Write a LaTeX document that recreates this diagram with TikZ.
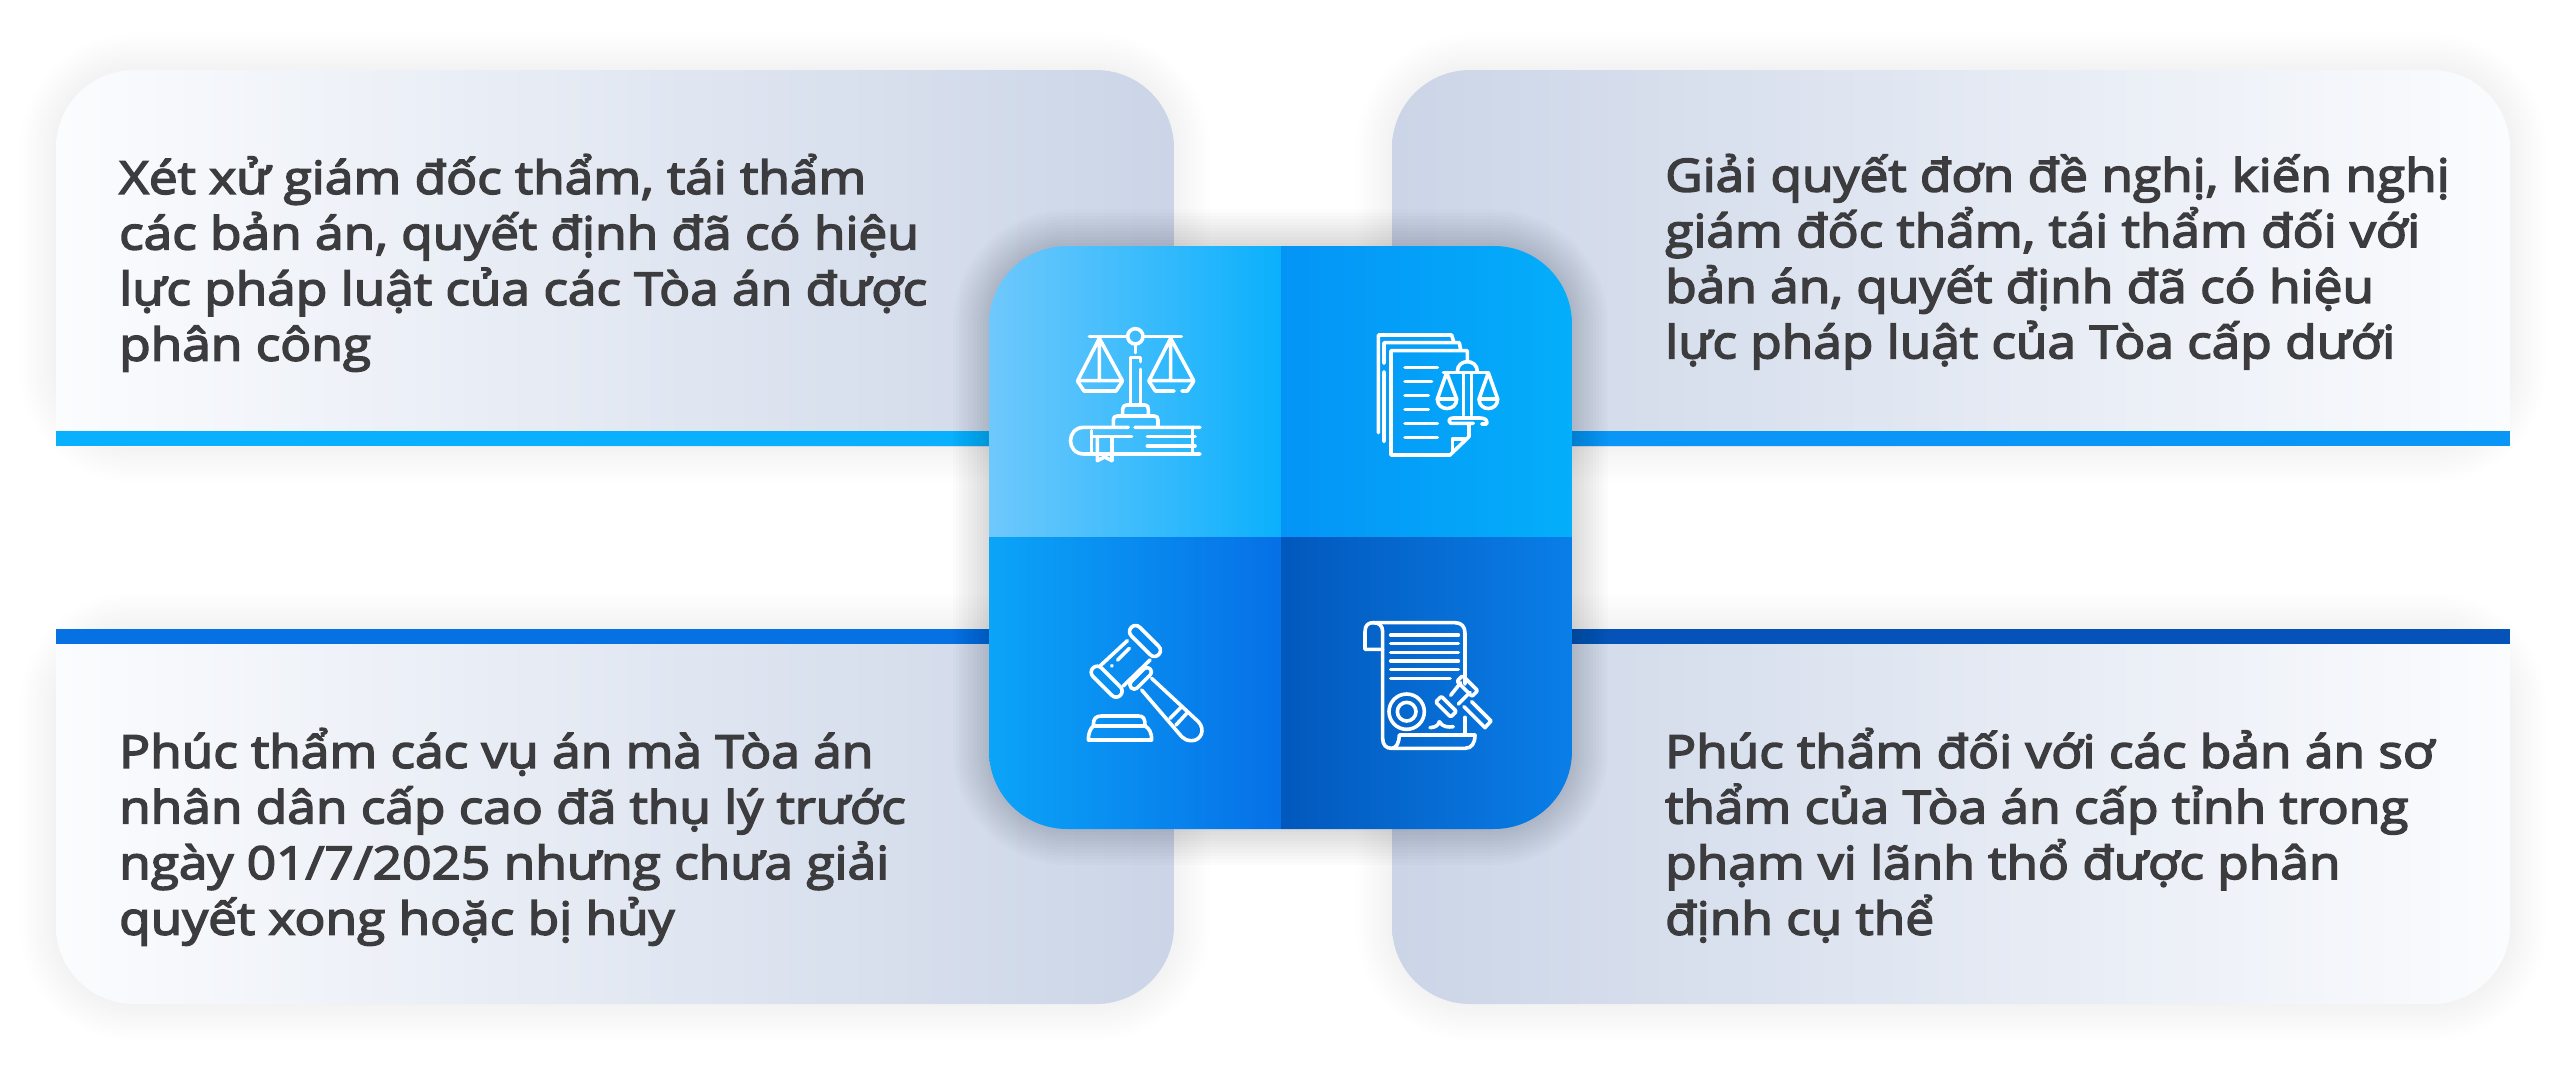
\documentclass[tikz,border=0pt]{standalone}
\usepackage{fontspec}
\setmainfont{Open Sans}[FakeBold=3.5,FakeStretch=1.13]
\definecolor{cardlight}{HTML}{FBFCFE}
\definecolor{carddark}{HTML}{CBD5E7}
\definecolor{txt}{HTML}{3C3C3E}
\definecolor{barA}{HTML}{09B0FD}
\definecolor{barB}{HTML}{0A96F6}
\definecolor{barC}{HTML}{0671E3}
\definecolor{barD}{HTML}{0553B8}
\definecolor{HTMLa}{HTML}{6FC8FC}
\definecolor{HTMLb}{HTML}{0BB0FC}
\definecolor{HTMLc}{HTML}{0494F6}
\definecolor{HTMLd}{HTML}{04AEFA}
\definecolor{HTMLe}{HTML}{0BA4F8}
\definecolor{HTMLf}{HTML}{0670E6}
\definecolor{HTMLg}{HTML}{0258BC}
\definecolor{HTMLh}{HTML}{0A7EE8}
\tikzset{
  cardtext/.style={anchor=north west,inner sep=0pt,align=left,text=txt,font=\fontsize{45.5}{55.6}\selectfont},
  ic/.style={draw=white,line width=3.6pt,line cap=round,line join=round},
  iconzoom/.style={x=0.33333pt,y=-0.33333pt},
}
\newcommand{\softshadow}[5]{% x1 y1 x2 y2 opacity
  \foreach \i in {1,...,12}{
    \fill[black,opacity=#5,rounded corners={78pt+\i*3pt}]
      ({#1-\i*3},{#2-\i*3}) rectangle ({#3+\i*3},{#4+\i*3});
  }
}
\begin{document}
\begin{tikzpicture}[x=1pt,y=-1pt]
\useasboundingbox (0,0) rectangle (2560,1082);
\fill[white] (0,0) rectangle (2560,1082);

% card shadows
\begin{scope}
\clip (0,0) rectangle (2560,1082);
\softshadow{56}{70}{1174}{446}{0.005}
\softshadow{1392}{70}{2510}{446}{0.005}
\softshadow{56}{629}{1174}{1004}{0.005}
\softshadow{1392}{629}{2510}{1004}{0.005}
\end{scope}

% cards
\begin{scope}
\clip[rounded corners=78pt] (56,70) rectangle (1174,600);
\shade[left color=cardlight,right color=carddark] (56,70) rectangle (1174,446);
\end{scope}
\begin{scope}
\clip[rounded corners=78pt] (1392,70) rectangle (2510,600);
\shade[left color=carddark,right color=cardlight] (1392,70) rectangle (2510,446);
\end{scope}
\begin{scope}
\clip[rounded corners=78pt] (56,500) rectangle (1174,1004);
\shade[left color=cardlight,right color=carddark] (56,629) rectangle (1174,1004);
\end{scope}
\begin{scope}
\clip[rounded corners=78pt] (1392,500) rectangle (2510,1004);
\shade[left color=carddark,right color=cardlight] (1392,629) rectangle (2510,1004);
\end{scope}

% bars
\fill[barA] (56,431) rectangle (1100,446);
\fill[barB] (1460,431) rectangle (2510,446);
\fill[barC] (56,629) rectangle (1100,644);
\fill[barD] (1460,629) rectangle (2510,644);

% texts
\node[cardtext] (ta) at (119,154) {Xét xử giám đốc thẩm, tái thẩm\\các bản án, quyết định đã có hiệu\\lực pháp luật của các Tòa án được\\phân công};
\node[cardtext] (tb) at (1665,154) {Giải quyết đơn đề nghị, kiến nghị\\giám đốc thẩm, tái thẩm đối với\\bản án, quyết định đã có hiệu\\lực pháp luật của Tòa cấp dưới};
\node[cardtext] (tc) at (119,728) {Phúc thẩm các vụ án mà Tòa án\\nhân dân cấp cao đã thụ lý trước\\ngày 01/7/2025 nhưng chưa giải\\quyết xong hoặc bị hủy};
\node[cardtext] (td) at (1665,728) {Phúc thẩm đối với các bản án sơ\\thẩm của Tòa án cấp tỉnh trong\\phạm vi lãnh thổ được phân\\định cụ thể};

% center shadow
\softshadow{989}{246}{1572}{829}{0.013}

% center box
\begin{scope}
\clip[rounded corners=78pt] (989,246) rectangle (1572,829);
\shade[left color=HTMLa,right color=HTMLb] (989,246) rectangle (1281,537);
\shade[left color=HTMLc,right color=HTMLd] (1281,246) rectangle (1572,537);
\shade[left color=HTMLe,right color=HTMLf] (989,537) rectangle (1281,829);
\shade[left color=HTMLg,right color=HTMLh] (1281,537) rectangle (1572,829);
\end{scope}

% icon 1: scales on books
\begin{scope}[shift={(1040,310)},iconzoom]
\draw[ic] (148,79) -- (262,79) (310,79) -- (424,79);
\draw[ic] (286,79) circle (23);
\draw[ic] (286,102) -- (286,128);
\draw[ic] (272,285) -- (272,142) -- (302,142) -- (302,155);
\draw[ic] (302,178) -- (302,285);
\draw[ic] (248,312) -- (248,298) .. controls (248,290) and (252,285) .. (260,285) -- (315,285) .. controls (322,285) and (325,290) .. (325,298) -- (325,316);
\draw[ic] (220,350) -- (220,330) .. controls (220,322) and (224,318) .. (232,318) -- (342,318) .. controls (350,318) and (354,322) .. (354,330) -- (354,350);
\draw[ic] (178,85) -- (113,212) -- (247,212) -- (178,85) (178,85) -- (178,212);
\draw[ic] (113,214) -- (132,243) -- (228,243) -- (247,214);
\draw[ic] (392,85) -- (327,212) -- (461,212) -- (392,85) (392,85) -- (392,212);
\draw[ic] (327,214) -- (346,243) -- (402,243) (426,243) -- (442,243) -- (461,214);
\draw[ic] (285,352) -- (480,352) (265,352) -- (132,352) .. controls (78,352) and (78,432) .. (132,432) -- (480,432);
\draw[ic] (155,362) -- (155,430);
\draw[ic] (160,380) -- (275,380) (322,380) -- (465,380) (322,408) -- (465,408) (458,352) -- (458,432);
\draw[ic] (172,385) -- (172,452) -- (194,441) -- (216,452) -- (216,385);
\end{scope}

% icon 2: documents with scales
\begin{scope}[shift={(1360,320)},iconzoom]
\draw[ic] (55,338) -- (55,45) -- (275,45) -- (281,65);
\draw[ic] (72,130) -- (72,68) -- (298,68) -- (302,90) (72,155) -- (72,365);
\draw[ic] (322,125) -- (322,92) -- (93,92) -- (93,405) -- (270,405) -- (327,350) -- (327,315);
\draw[ic] (277,397) -- (277,357) -- (316,357);
\draw[ic] (135,142) -- (232,142) (135,184) -- (215,184) (135,226) -- (205,226) (135,268) -- (205,268) (135,310) -- (232,310) (135,352) -- (232,352);
\draw[ic] (250,158) -- (385,158);
\draw[ic] (292,155) .. controls (292,115) and (352,115) .. (352,155);
\draw[ic] (310,158) -- (310,285) (335,158) -- (335,285);
\draw[ic] (340,310) -- (272,310) .. controls (262,300) and (270,294) .. (280,294) -- (360,294) .. controls (378,294) and (382,302) .. (380,312) (365,312) -- (380,312);
\draw[ic] (260,158) -- (232,237) -- (290,237) -- (260,158);
\draw[ic] (232,237) .. controls (232,275) and (290,275) .. (290,237);
\draw[ic] (385,158) -- (357,237) -- (413,237) -- (385,158);
\draw[ic] (357,237) .. controls (357,275) and (413,275) .. (413,237);
\end{scope}

% icon 3: gavel
\begin{scope}[shift={(1070,610)},iconzoom]
\draw[ic,rotate around={-45:(225,93)},rounded corners=5.9pt] (167,75) rectangle (283,111);
\draw[ic,rotate around={-45:(110,215)},rounded corners=5.9pt] (52,197) rectangle (168,233);
\draw[ic] (90,168) -- (172,92) (160,228) -- (240,150);
\draw[ic] (143,150) -- (178,115) (125,168) -- (126,167);
\draw[ic,rotate around={45:(212,205)},rounded corners=4pt] (172,192) rectangle (252,218);
\draw[ic] (245,205) -- (385,335) .. controls (408,360) and (392,392) .. (365,392) .. controls (352,392) and (342,388) .. (335,380) -- (215,240);
\draw[ic] (300,325) -- (335,290) (318,345) -- (352,308);
\draw[ic] (70,345) .. controls (70,325) and (78,318) .. (95,318) -- (205,318) .. controls (220,318) and (225,325) .. (225,345);
\draw[ic] (70,348) -- (225,348) .. controls (238,355) and (245,368) .. (245,390) -- (55,390) .. controls (55,368) and (62,355) .. (70,348);
\end{scope}

% icon 4: scroll with gavel
\begin{scope}[shift={(1350,610)},iconzoom]
\draw[ic] (98,118) -- (45,118) -- (45,65) .. controls (45,45) and (55,38) .. (70,38) -- (315,38) .. controls (335,38) and (345,50) .. (345,70) -- (345,222);
\draw[ic] (70,38) .. controls (88,38) and (98,48) .. (98,65) -- (98,385) .. controls (98,405) and (108,415) .. (125,415) -- (345,415) .. controls (365,415) and (375,400) .. (375,375) -- (148,375) .. controls (148,395) and (140,415) .. (125,415);
\draw[ic] (345,322) -- (345,375);
\draw[ic] (122,75) -- (325,75) (122,101) -- (325,101) (122,127) -- (325,127) (122,153) -- (325,153) (122,179) -- (325,179) (122,205) -- (300,205);
\draw[ic] (170,305) circle (53) (170,305) circle (28);
\draw[ic] (240,353) .. controls (258,352) and (265,345) .. (268,335) .. controls (278,352) and (295,352) .. (310,350);
\draw[ic,rotate around={-45:(352,228)},rounded corners=1.3pt] (320,216) rectangle (384,240);
\draw[ic,rotate around={-45:(288,290)},rounded corners=1.3pt] (256,278) rectangle (320,302);
\draw[ic] (302,256) -- (332,218) (325,282) -- (360,247);
\draw[ic] (365,275) -- (423,333) -- (405,353) -- (342,290);
\end{scope}
\end{tikzpicture}
\end{document}
